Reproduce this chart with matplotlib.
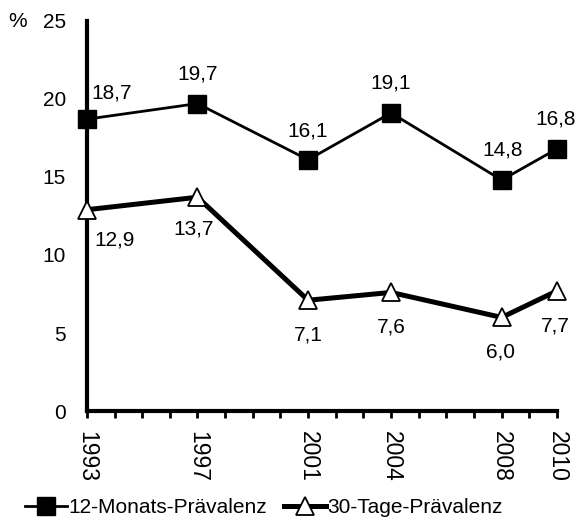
import matplotlib
matplotlib.use("Agg")
import matplotlib.pyplot as plt
from matplotlib.ticker import MultipleLocator

plt.rcParams['font.family'] = ['Liberation Sans', 'DejaVu Sans']

years = [1993, 1997, 2001, 2004, 2008, 2010]
monats = [18.7, 19.7, 16.1, 19.1, 14.8, 16.8]
tage = [12.9, 13.7, 7.1, 7.6, 6.0, 7.7]
monats_labels = ["18,7", "19,7", "16,1", "19,1", "14,8", "16,8"]
tage_labels = ["12,9", "13,7", "7,1", "7,6", "6,0", "7,7"]

fig = plt.figure(figsize=(5.79, 5.21), dpi=100)
ax = fig.add_axes([0.150, 0.211, 0.812, 0.749])

ax.plot(years, monats, color='black', lw=2, marker='s', ms=13,
        mfc='black', mec='black', clip_on=False, zorder=3,
        label='12-Monats-Prävalenz')
ax.plot(years, tage, color='black', lw=3.6, marker='^', ms=13,
        mfc='white', mec='black', mew=1.3, clip_on=False, zorder=3,
        label='30-Tage-Prävalenz')

# label offsets in points
off_m = [(18, 19), (0, 21.5), (0, 21), (0, 21.5), (1, 21.5), (-1, 21.5)]
off_t = [(20, -22), (-3, -23), (0, -25), (0, -25), (-1, -25), (-1, -25)]
for x, y, s, o in zip(years, monats, monats_labels, off_m):
    ax.annotate(s, (x, y), xytext=o, textcoords='offset points',
                ha='center', va='center', fontsize=15)
for x, y, s, o in zip(years, tage, tage_labels, off_t):
    ax.annotate(s, (x, y), xytext=o, textcoords='offset points',
                ha='center', va='center', fontsize=15)

ax.set_xlim(1993, 2010)
ax.set_ylim(0, 25)
ax.set_xticks(years)
ax.set_xticklabels([str(y) for y in years], rotation=270, fontsize=16.5)
ax.xaxis.set_minor_locator(MultipleLocator(1))
ax.tick_params(axis='x', which='both', direction='out', length=5, width=2, pad=9)
ax.set_yticks([0, 5, 10, 15, 20, 25])
ax.tick_params(axis='y', length=0, pad=15, labelsize=15)

for s in ['top', 'right']:
    ax.spines[s].set_visible(False)
for s in ['left', 'bottom']:
    ax.spines[s].set_linewidth(3)

fig.text(0.031, 0.958, '%', fontsize=15, ha='center', va='center')

ax.legend(loc='center', bbox_to_anchor=(0.456, 0.025), bbox_transform=fig.transFigure,
          ncol=2, frameon=False, fontsize=15, handlelength=2.0,
          handletextpad=0.1, columnspacing=0.8, borderaxespad=0, borderpad=0)

fig.savefig('out.png', dpi=100)
